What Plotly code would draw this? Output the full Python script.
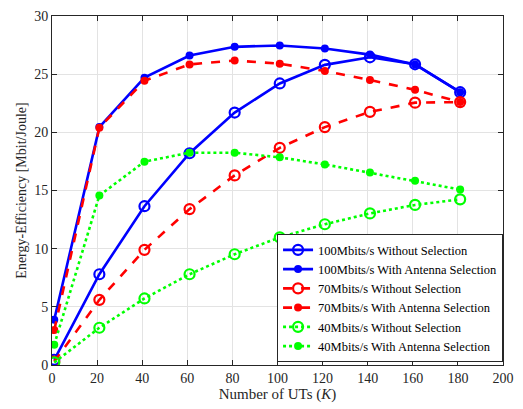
import plotly.graph_objects as go

K = [1, 21, 41, 61, 81, 101, 121, 141, 161, 181]

ee_100_without = [0.45, 7.8, 13.65, 18.2, 21.7, 24.2, 25.8, 26.45, 25.85, 23.45]
ee_100_with = [3.9, 20.45, 24.7, 26.6, 27.35, 27.47, 27.2, 26.68, 25.84, 23.45]
ee_70_without = [0.3, 5.6, 9.9, 13.4, 16.3, 18.67, 20.45, 21.76, 22.55, 22.6]
ee_70_with = [3.0, 20.4, 24.43, 25.84, 26.17, 25.9, 25.27, 24.5, 23.65, 22.6]
ee_40_without = [0.22, 3.2, 5.72, 7.8, 9.52, 10.97, 12.1, 13.03, 13.76, 14.24]
ee_40_with = [1.75, 14.57, 17.48, 18.25, 18.25, 17.85, 17.24, 16.54, 15.84, 15.08]

names = [
    "100Mbits/s Without Selection",
    "100Mbits/s With Antenna Selection",
    "70Mbits/s Without Selection",
    "70Mbits/s With Antenna Selection",
    "40Mbits/s Without Selection",
    "40Mbits/s With Antenna Selection",
]
series = [ee_100_without, ee_100_with, ee_70_without, ee_70_with, ee_40_without, ee_40_with]
colors = ["#0000ff", "#0000ff", "#ff0000", "#ff0000", "#00ff00", "#00ff00"]
dashes = ["solid", "solid", "dash", "dash", "dot", "dot"]
open_marker = [True, False, True, False, True, False]

SERIF = "Times New Roman, Liberation Serif, serif"

fig = go.Figure()
for name, ys, c, d, op in zip(names, series, colors, dashes, open_marker):
    fig.add_trace(go.Scatter(
        x=K, y=ys, name=name, mode="lines+markers",
        line=dict(color=c, width=2.6, dash=d),
        marker=dict(
            symbol="circle-open" if op else "circle",
            size=10 if op else 8,
            color=c,
            line=dict(color=c, width=2.2 if op else 0),
        ),
    ))

axis_common = dict(
    showline=True, linecolor="#262626", linewidth=1, mirror="ticks",
    ticks="inside", ticklen=5, tickcolor="#262626",
    showgrid=True, gridcolor="#e3e3e3", gridwidth=1,
    zeroline=False,
    tickfont=dict(family=SERIF, size=14, color="#262626"),
)

fig.update_layout(
    width=523, height=409,
    margin=dict(l=52, r=20, t=9, b=44),
    paper_bgcolor="white", plot_bgcolor="white",
    font=dict(family=SERIF, color="#262626"),
    xaxis=dict(range=[0, 200], tickvals=list(range(0, 201, 20)),
               title=dict(text="Number of UTs (<i>K</i>)", font=dict(family=SERIF, size=15), standoff=2),
               **axis_common),
    yaxis=dict(range=[0, 30], tickvals=[0, 5, 10, 15, 20, 25, 30],
               title=dict(text="Energy-Efficiency [Mbit/Joule]", font=dict(family=SERIF, size=14), standoff=4),
               **axis_common),
    legend=dict(
        x=0.499, y=0.008, xanchor="left", yanchor="bottom",
        bgcolor="white", bordercolor="#262626", borderwidth=1,
        font=dict(family=SERIF, size=12.5, color="#000000"),
        tracegroupgap=0, itemwidth=30,
    ),
    showlegend=True,
)

fig.write_html("out.html")
